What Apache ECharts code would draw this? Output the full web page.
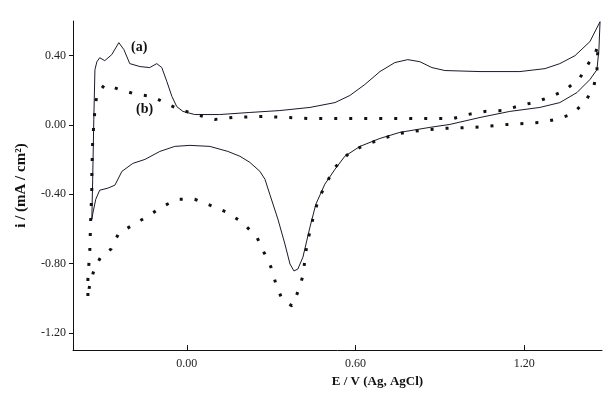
<!DOCTYPE html>
<html>
<head>
<meta charset="utf-8">
<script src="https://cdn.jsdelivr.net/npm/echarts@6/dist/echarts.min.js"></script>
<style>
  html, body { margin: 0; padding: 0; background: #fff; }
  #chart { width: 605px; height: 393px; }
</style>
</head>
<body>
<div id="chart"></div>
<script>
// potential E (V) and current i (mA/cm2)
const curveA = [
  [-0.338, -0.544], [-0.335, -0.314], [-0.331, 0.032], [-0.327, 0.319], [-0.320, 0.365],
  [-0.310, 0.388], [-0.292, 0.371], [-0.267, 0.406], [-0.242, 0.475], [-0.224, 0.435],
  [-0.203, 0.354], [-0.167, 0.337], [-0.132, 0.331], [-0.107, 0.354], [-0.089, 0.331],
  [-0.071, 0.250], [-0.053, 0.164], [-0.036, 0.106], [-0.014, 0.078], [0.028, 0.060],
  [0.117, 0.060], [0.224, 0.072], [0.331, 0.083], [0.438, 0.101], [0.527, 0.129],
  [0.580, 0.170], [0.633, 0.233], [0.687, 0.308], [0.740, 0.360], [0.786, 0.377],
  [0.829, 0.365], [0.872, 0.331], [0.918, 0.314], [1.043, 0.308], [1.185, 0.308],
  [1.274, 0.325], [1.327, 0.354], [1.381, 0.400], [1.434, 0.481], [1.470, 0.596],
  // reverse scan
  [1.466, 0.435], [1.459, 0.319], [1.434, 0.262], [1.388, 0.187], [1.327, 0.129],
  [1.256, 0.101], [1.149, 0.078], [1.043, 0.043], [0.936, 0.003], [0.865, -0.014],
  [0.758, -0.043], [0.687, -0.078], [0.616, -0.124], [0.562, -0.181], [0.527, -0.256],
  [0.491, -0.342], [0.459, -0.458], [0.438, -0.590], [0.413, -0.763], [0.395, -0.832],
  [0.381, -0.843], [0.367, -0.803], [0.349, -0.688], [0.324, -0.544], [0.295, -0.400],
  [0.278, -0.314], [0.260, -0.268], [0.224, -0.216], [0.189, -0.181], [0.146, -0.153],
  [0.082, -0.124], [0.011, -0.118], [-0.043, -0.124], [-0.096, -0.153], [-0.149, -0.199],
  [-0.192, -0.222], [-0.231, -0.268], [-0.256, -0.348], [-0.281, -0.365], [-0.310, -0.377],
  [-0.324, -0.429], [-0.335, -0.515], [-0.338, -0.544]
];

const curveB = [
  [-0.352, -0.987], [-0.352, -0.889], [-0.345, -0.717], [-0.342, -0.544], [-0.338, -0.371],
  [-0.338, -0.273], [-0.335, -0.095], [-0.331, 0.003], [-0.327, 0.089], [-0.320, 0.176],
  [-0.292, 0.233], [-0.238, 0.204], [-0.178, 0.176], [-0.121, 0.164], [-0.068, 0.118],
  [-0.014, 0.083], [0.046, 0.055], [0.100, 0.032], [0.164, 0.043], [0.270, 0.049],
  [0.438, 0.037], [0.580, 0.037], [0.758, 0.037], [0.947, 0.037], [1.000, 0.060],
  [1.060, 0.078], [1.121, 0.083], [1.174, 0.106], [1.231, 0.129], [1.288, 0.158],
  [1.345, 0.199], [1.399, 0.273], [1.431, 0.360], [1.452, 0.406], [1.463, 0.463],
  // reverse scan
  [1.459, 0.319], [1.448, 0.222], [1.416, 0.129], [1.367, 0.060], [1.313, 0.032],
  [1.256, 0.014], [1.142, 0.003], [1.025, -0.014], [0.911, -0.020], [0.829, -0.032],
  [0.758, -0.049], [0.687, -0.083], [0.616, -0.129], [0.580, -0.158], [0.527, -0.245],
  [0.498, -0.331], [0.470, -0.423], [0.452, -0.515], [0.441, -0.596], [0.427, -0.688],
  [0.420, -0.780], [0.413, -0.872], [0.395, -0.964], [0.374, -1.045], [0.338, -1.004],
  [0.317, -0.918], [0.299, -0.820], [0.274, -0.734], [0.249, -0.647], [0.196, -0.561],
  [0.142, -0.504], [0.082, -0.463], [0.028, -0.429], [-0.032, -0.429], [-0.085, -0.469],
  [-0.139, -0.527], [-0.192, -0.578], [-0.242, -0.624], [-0.270, -0.717], [-0.306, -0.763],
  [-0.327, -0.820], [-0.345, -0.918], [-0.352, -0.987]
];

const xTicks = [0.0, 0.6, 1.2];
const yTicks = [-1.2, -0.8, -0.4, 0.0, 0.4];

const font = 'Liberation Serif, Times New Roman, serif';
const chart = echarts.init(document.getElementById('chart'));

chart.setOption({
  animation: false,
  backgroundColor: '#fff',
  grid: { left: 73, right: 3, top: 21, bottom: 42 },
  xAxis: {
    type: 'value',
    min: -0.405,
    max: 1.477,
    name: 'E / V (Ag, AgCl)',
    nameLocation: 'middle',
    nameGap: 22,
    nameTextStyle: { fontFamily: font, fontSize: 13, fontWeight: 'bold', color: '#111', padding: [0, 0, 0, 80] },
    axisLine: { onZero: false, lineStyle: { color: '#111', width: 1 } },
    axisTick: { inside: true, length: 5, customValues: xTicks, lineStyle: { color: '#111' } },
    axisLabel: {
      customValues: xTicks,
      margin: 8,
      fontFamily: font,
      fontSize: 12,
      color: '#222',
      formatter: (v) => v.toFixed(2)
    },
    splitLine: { show: false }
  },
  yAxis: {
    type: 'value',
    min: -1.3,
    max: 0.6,
    name: 'i / (mA / cm²)',
    nameLocation: 'middle',
    nameGap: 44,
    nameRotate: 90,
    nameTextStyle: { fontFamily: font, fontSize: 15, fontWeight: 'bold', color: '#111' },
    axisLine: { show: true, onZero: false, lineStyle: { color: '#111', width: 1 } },
    axisTick: { show: true, length: 4, customValues: yTicks, lineStyle: { color: '#111' } },
    axisLabel: {
      customValues: yTicks,
      margin: 7,
      fontFamily: font,
      fontSize: 12,
      color: '#222',
      formatter: (v) => v.toFixed(2)
    },
    splitLine: { show: false }
  },
  graphic: [
    { type: 'text', left: 131, top: 40, style: { text: '(a)', font: 'bold 14px ' + font, fill: '#111' } },
    { type: 'text', left: 136, top: 102, style: { text: '(b)', font: 'bold 14px ' + font, fill: '#111' } }
  ],
  series: [
    {
      name: '(a)',
      type: 'line',
      data: curveA,
      showSymbol: false,
      lineStyle: { color: '#1a1a2a', width: 1 }
    },
    {
      name: '(b)',
      type: 'line',
      data: curveB,
      showSymbol: false,
      lineStyle: { color: '#111', width: 3, type: [3, 12], cap: 'butt' }
    }
  ]
});
</script>
</body>
</html>
